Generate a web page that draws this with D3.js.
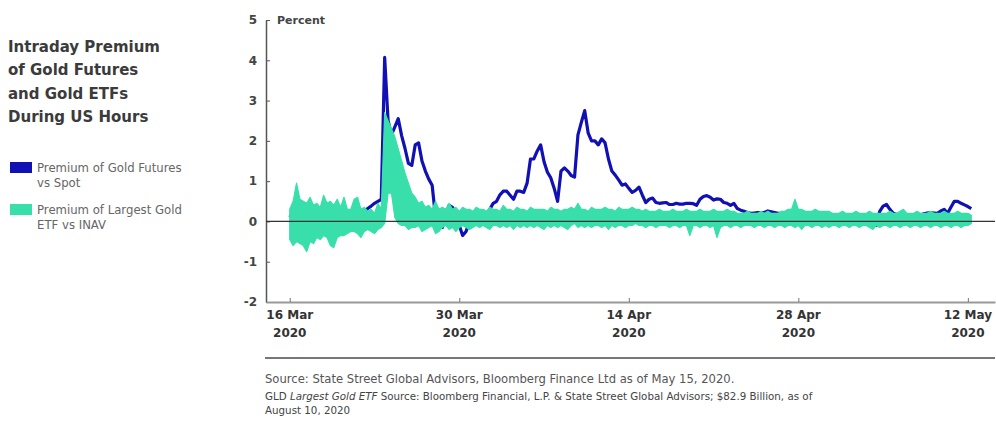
<!DOCTYPE html>
<html>
  <head>
    <meta charset="utf-8">
    <title>Intraday Premium of Gold Futures and Gold ETFs</title>
    <script type="text/javascript" src="https://cdnjs.cloudflare.com/ajax/libs/d3/7.8.5/d3.min.js"></script>
    <style>
      body { margin: 0; background: #fff; }
      text { font-family: "DejaVu Sans", sans-serif; }
    </style>
  </head>
  <body>
  <script>

    // title lines
    var titleLines = ['Intraday Premium', 'of Gold Futures', 'and Gold ETFs', 'During US Hours'];

    var seriesNames = [
      ['Premium of Gold Futures', 'vs Spot'],
      ['Premium of Largest Gold', 'ETF vs INAV']
    ];

    // x axis ticks, in trading days after 16 Mar 2020
    var tickDays = [0, 10, 20, 30, 40];
    var tickLabels = ['16 Mar', '30 Mar', '14 Apr', '28 Apr', '12 May'];
    var yTicks = [-2, -1, 0, 1, 2, 3, 4, 5];

    // one reading every 1/5 of a trading day, starting 16 Mar
    var step = 0.2;

    // futures premium vs spot, percent
    var futures = [
      0.1, 0.2, 0.15, 0.1, 0.2, 0.15, 0.1, 0.2, 0.25, 0.15,
      0.1, 0.2, 0.15, 0.1, 0.2, 0.15, 0.2, 0.1, 0.15, 0.2,
      0.15, 0.2, 0.25, 0.32, 0.38, 0.45, 0.5, 0.55, 4.07, 2.5,
      2.15, 2.35, 2.55, 2.13, 1.81, 1.44, 1.39, 1.9, 1.95, 1.5,
      1.25, 1.05, 0.9, 0.1, -0.15, -0.15, 0.15, 0.4, 0.35, 0.15,
      -0.1, -0.35, -0.25, 0.0, 0.1, 0.15, 0.1, 0.2, 0.15, 0.3,
      0.45, 0.5, 0.66, 0.75, 0.75, 0.65, 0.55, 0.75, 0.75, 0.72,
      0.95, 1.55, 1.55, 1.75, 1.9, 1.48, 1.22, 1.08, 0.82, 0.5,
      1.25, 1.33, 1.25, 1.14, 1.1, 2.15, 2.46, 2.75, 2.2, 2.0,
      2.0, 1.9, 2.05, 1.95, 1.55, 1.25, 1.15, 1.03, 0.9, 0.93,
      0.82, 0.72, 0.77, 0.85, 0.65, 0.47, 0.55, 0.58, 0.47, 0.45,
      0.46, 0.47, 0.42, 0.42, 0.45, 0.43, 0.43, 0.45, 0.45, 0.44,
      0.4, 0.55, 0.62, 0.64, 0.6, 0.53, 0.56, 0.55, 0.47, 0.45,
      0.4, 0.45, 0.32, 0.28, 0.25, 0.22, 0.2, 0.21, 0.22, 0.22,
      0.22, 0.26, 0.24, 0.22, 0.2, 0.2, 0.2, 0.21, 0.22, 0.22,
      0.22, 0.21, 0.2, 0.21, 0.22, 0.22, 0.22, 0.21, 0.2, 0.17,
      0.15, 0.15, 0.15, 0.12, 0.1, 0.08, 0.07, 0.09, 0.1, 0.08,
      0.07, 0.0, -0.08, -0.1, 0.25, 0.38, 0.42, 0.3, 0.2, 0.17,
      0.15, 0.12, 0.1, 0.1, 0.12, 0.14, 0.16, 0.19, 0.21, 0.22,
      0.21, 0.2, 0.26, 0.3, 0.2, 0.35, 0.5, 0.5, 0.45, 0.41,
      0.37, 0.32
    ];

    // largest gold ETF premium vs INAV: high and low of each 1/5-day slot, percent
    var etfHigh = [
      0.3, 0.5, 0.95, 0.55, 0.5, 0.45, 0.6, 0.4, 0.45, 0.35,
      0.65, 0.45, 0.5, 0.4, 0.55, 0.35, 0.6, 0.3, 0.3, 0.55,
      0.6, 0.3, 0.35, 0.25, 0.3, 0.2, 0.45, 0.3, 2.7, 2.5,
      2.3, 2.1, 1.8, 1.5, 1.2, 0.95, 0.7, 0.6, 0.45, 0.5,
      0.35, 0.4, 0.3, 0.5, 0.3, 0.35, 0.3, 0.45, 0.3, 0.35,
      0.25, 0.35, 0.3, 0.3, 0.25, 0.35, 0.3, 0.3, 0.25, 0.35,
      0.3, 0.3, 0.25, 0.4, 0.3, 0.3, 0.25, 0.35, 0.3, 0.3,
      0.25, 0.35, 0.3, 0.3, 0.3, 0.3, 0.25, 0.35, 0.3, 0.3,
      0.25, 0.3, 0.3, 0.35, 0.3, 0.45, 0.3, 0.3, 0.25, 0.35,
      0.3, 0.3, 0.3, 0.35, 0.3, 0.3, 0.25, 0.35, 0.3, 0.3,
      0.3, 0.35, 0.3, 0.3, 0.25, 0.3, 0.25, 0.25, 0.25, 0.3,
      0.25, 0.25, 0.25, 0.3, 0.25, 0.25, 0.25, 0.3, 0.25, 0.25,
      0.25, 0.3, 0.25, 0.25, 0.25, 0.3, 0.25, 0.25, 0.25, 0.3,
      0.25, 0.25, 0.2, 0.2, 0.2, 0.25, 0.2, 0.2, 0.2, 0.25,
      0.2, 0.25, 0.2, 0.2, 0.2, 0.25, 0.25, 0.3, 0.3, 0.55,
      0.3, 0.3, 0.25, 0.25, 0.25, 0.3, 0.25, 0.25, 0.25, 0.25,
      0.2, 0.2, 0.2, 0.25, 0.2, 0.2, 0.2, 0.25, 0.2, 0.2,
      0.2, 0.25, 0.2, 0.2, 0.2, 0.2, 0.2, 0.25, 0.2, 0.2,
      0.25, 0.3, 0.2, 0.2, 0.2, 0.25, 0.2, 0.2, 0.2, 0.25,
      0.2, 0.2, 0.2, 0.25, 0.2, 0.2, 0.2, 0.25, 0.2, 0.2,
      0.2, 0.15
    ];
    var etfLow = [
      -0.45, -0.6, -0.5, -0.55, -0.6, -0.75, -0.5, -0.55, -0.4, -0.45,
      -0.35, -0.4, -0.6, -0.65, -0.4, -0.35, -0.35, -0.3, -0.25, -0.25,
      -0.3, -0.4, -0.25, -0.2, -0.25, -0.3, -0.2, -0.15, -0.05, 0.7,
      0.7, 0.1, -0.05, -0.1, -0.1, -0.2, -0.15, -0.15, -0.1, -0.25,
      -0.2, -0.15, -0.1, -0.3, -0.25, -0.15, -0.1, -0.2, -0.15, -0.25,
      -0.15, -0.1, -0.15, -0.2, -0.15, -0.1, -0.15, -0.1, -0.15, -0.2,
      -0.1, -0.1, -0.15, -0.1, -0.15, -0.1, -0.2, -0.1, -0.15, -0.1,
      -0.15, -0.1, -0.15, -0.1, -0.15, -0.2, -0.1, -0.15, -0.1, -0.15,
      -0.1, -0.15, -0.2, -0.1, -0.05, -0.15, -0.1, -0.15, -0.1, -0.15,
      -0.1, -0.1, -0.15, -0.1, -0.2, -0.1, -0.15, -0.1, -0.1, -0.15,
      -0.1, -0.1, -0.05, -0.1, -0.1, -0.15, -0.1, -0.1, -0.15, -0.1,
      -0.1, -0.1, -0.15, -0.1, -0.1, -0.15, -0.1, -0.1, -0.35, -0.1,
      -0.1, -0.15, -0.1, -0.1, -0.15, -0.1, -0.4, -0.15, -0.1, -0.1,
      -0.15, -0.1, -0.1, -0.15, -0.1, -0.1, -0.1, -0.15, -0.1, -0.1,
      -0.15, -0.1, -0.1, -0.15, -0.1, -0.1, -0.15, -0.1, -0.1, -0.15,
      -0.1, -0.2, -0.1, -0.1, -0.15, -0.1, -0.1, -0.15, -0.1, -0.15,
      -0.1, -0.1, -0.15, -0.1, -0.1, -0.15, -0.1, -0.1, -0.15, -0.1,
      -0.1, -0.15, -0.2, -0.1, -0.15, -0.1, -0.1, -0.15, -0.1, -0.1,
      -0.15, -0.1, -0.1, -0.15, -0.1, -0.1, -0.15, -0.1, -0.1, -0.15,
      -0.1, -0.1, -0.15, -0.1, -0.1, -0.15, -0.1, -0.1, -0.15, -0.1,
      -0.1, -0.05
    ];

    var colors = ['#1010b4', '#38dfab'];

    var svg = d3.select('body')
              .append('svg')
              .attr('width', 996)
              .attr('height', 421);

    var x = d3.scaleLinear()
      .domain([-1.4, 41.6])
      .range([266, 995]);

    var y = d3.scaleLinear()
      .domain([-2, 5])
      .range([302, 20]);

    // title
    svg.append('g').selectAll('text')
      .data(titleLines)
      .enter().append('text')
      .attr('x', 8)
      .attr('y', function(d, i) { return 52 + i * 23.3; })
      .attr('font-size', 15)
      .attr('font-weight', 'bold')
      .attr('fill', '#3b3b3b')
      .text(function(d) { return d; });

    // legend
    var legend = svg.append('g');
    seriesNames.forEach(function(lines, k) {
      var top = 162 + k * 42;
      legend.append('rect')
        .attr('x', 10).attr('y', top)
        .attr('width', 22).attr('height', 11)
        .attr('fill', colors[k]);
      lines.forEach(function(t, j) {
        legend.append('text')
          .attr('x', 37)
          .attr('y', top + 10 + j * 15)
          .attr('font-size', 11.7)
          .attr('fill', '#666')
          .text(t);
      });
    });

    // y axis
    var yAxis = d3.axisLeft(y)
      .tickValues(yTicks)
      .tickSizeInner(-4)
      .tickSizeOuter(0)
      .tickPadding(9)
      .tickFormat(function(d) { return String(d); });

    var gy = svg.append('g')
      .attr('transform', 'translate(266,0)')
      .call(yAxis);
    gy.select('.domain').attr('stroke', '#555').attr('stroke-width', 1.5);
    gy.selectAll('.tick line').attr('stroke', '#555');
    gy.selectAll('.tick text')
      .attr('font-size', 12)
      .attr('font-weight', 'bold')
      .attr('fill', '#444')
      .attr('font-family', '"DejaVu Sans", sans-serif');

    svg.append('text')
      .attr('x', 277).attr('y', 24)
      .attr('font-size', 11)
      .attr('font-weight', 'bold')
      .attr('fill', '#444')
      .text('Percent');

    // x axis
    var xAxis = d3.axisBottom(x)
      .tickValues(tickDays)
      .tickSizeInner(-4)
      .tickSizeOuter(0)
      .tickFormat('');

    var gx = svg.append('g')
      .attr('transform', 'translate(0,302)')
      .call(xAxis);
    gx.select('.domain').attr('stroke', '#999').attr('stroke-width', 2);
    gx.selectAll('.tick line').attr('stroke', '#777');

    var xl = svg.append('g').selectAll('g')
      .data(tickDays)
      .enter().append('g');
    xl.append('text')
      .attr('x', function(d) { return x(d); })
      .attr('y', 319)
      .attr('text-anchor', 'middle')
      .attr('font-size', 12)
      .attr('font-weight', 'bold')
      .attr('fill', '#333')
      .text(function(d, i) { return tickLabels[i]; });
    xl.append('text')
      .attr('x', function(d) { return x(d); })
      .attr('y', 337)
      .attr('text-anchor', 'middle')
      .attr('font-size', 12)
      .attr('font-weight', 'bold')
      .attr('fill', '#333')
      .text('2020');

    // series
    var line = d3.line()
      .x(function(d, i) { return x(i * step); })
      .y(function(d) { return y(d); });

    var band = d3.area()
      .x(function(d, i) { return x(i * step); })
      .y0(function(d, i) { return y(etfLow[i]); })
      .y1(function(d) { return y(d); });

    svg.append('path')
      .datum(futures)
      .attr('d', line)
      .attr('fill', 'none')
      .attr('stroke', colors[0])
      .attr('stroke-width', 3.2)
      .attr('stroke-linejoin', 'round');

    svg.append('path')
      .datum(etfHigh)
      .attr('d', band)
      .attr('fill', colors[1])
      .attr('stroke', colors[1])
      .attr('stroke-width', 1.2)
      .attr('stroke-linejoin', 'round');

    // zero line
    svg.append('line')
      .attr('x1', 266).attr('x2', 995)
      .attr('y1', y(0)).attr('y2', y(0))
      .attr('stroke', '#333')
      .attr('stroke-width', 1.2);

    // footer
    svg.append('line')
      .attr('x1', 265).attr('x2', 995)
      .attr('y1', 358).attr('y2', 358)
      .attr('stroke', '#777')
      .attr('stroke-width', 2);

    svg.append('text')
      .attr('x', 265).attr('y', 383)
      .attr('font-size', 11.6)
      .attr('fill', '#555')
      .text('Source: State Street Global Advisors, Bloomberg Finance Ltd as of May 15, 2020.');

    var note = svg.append('text')
      .attr('x', 265).attr('y', 400)
      .attr('font-size', 10.3)
      .attr('fill', '#444');
    note.append('tspan').text('GLD ');
    note.append('tspan').attr('font-style', 'italic').text('Largest Gold ETF');
    note.append('tspan').text(' Source: Bloomberg Financial, L.P. & State Street Global Advisors; $82.9 Billion, as of');

    svg.append('text')
      .attr('x', 265).attr('y', 414)
      .attr('font-size', 10.3)
      .attr('fill', '#444')
      .text('August 10, 2020');

  </script>
 </body>
</html>
